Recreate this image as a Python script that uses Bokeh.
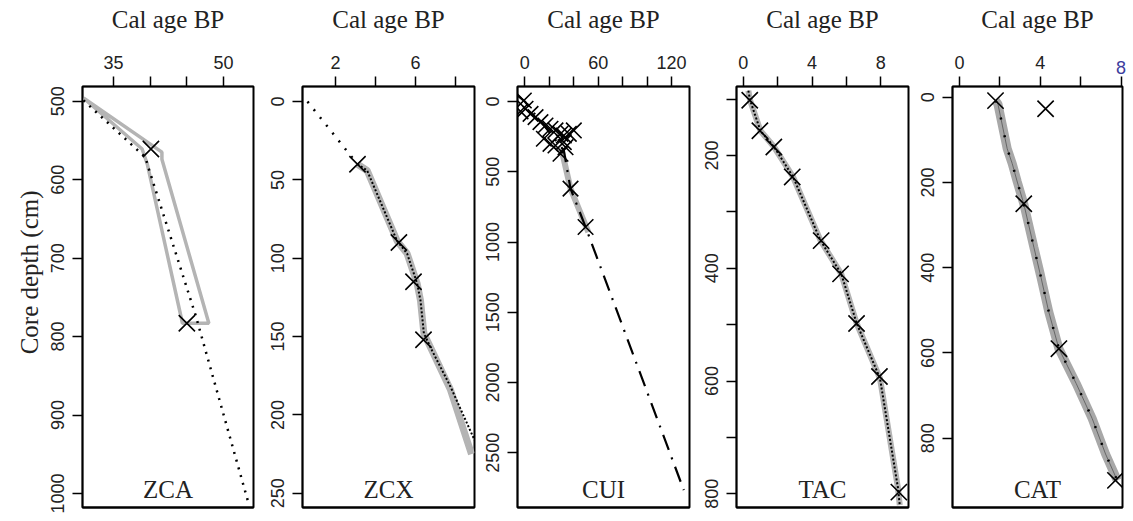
import math
from bokeh.plotting import figure
from bokeh.layouts import row
from bokeh.models import Range1d, FixedTicker, Label, LinearAxis, Title
from bokeh.embed import file_html
from bokeh.resources import INLINE

SERIF = "Liberation Serif"
SANS = "Liberation Sans"
GRAY = "#b4b4b4"
TXT = "#222222"

# ---------------- data ----------------
panel_names = ["ZCA", "ZCX", "CUI", "TAC", "CAT"]
x_title = "Cal age BP"
y_title = "Core depth (cm)"

# ZCA
zca_date_age = [40.1, 45.0]
zca_date_depth = [561, 783]
zca_model_age = [30.9, 39.4, 39.6, 46.2, 53.4]
zca_model_depth = [499, 572, 580, 773, 1012]
zca_env_age = [30.9, 41.6, 41.6, 48.0, 44.4, 39.6, 38.9, 30.9]
zca_env_depth = [496, 565, 574, 783, 783, 580, 561, 496]

# ZCX
zcx_date_age = [3.1, 5.17, 5.9, 6.4]
zcx_date_depth = [40, 90, 115, 152]
zcx_lead_age = [0.6, 3.1]
zcx_lead_depth = [0, 40]
zcx_model_age = [3.1, 3.58, 5.08, 5.58, 6.08, 6.25, 6.42, 6.83, 7.75, 8.95]
zcx_model_depth = [40, 44, 89, 97, 116, 127, 148, 159, 182, 216]
zcx_env_age = [3.1, 3.58, 5.08, 5.58, 6.08, 6.25, 6.42, 6.83, 7.75, 8.8]
zcx_env_depth = [40, 44, 89, 97, 116, 127, 148, 159, 184, 225]

# CUI
cui_date_age = [-0.8, -3.5, 0.6, 4.7, 8.8, 12.8, 16.9, 21.0, 25.1, 29.2, 31.9, 36.0,
                 40.1, 15.6, 21.0, 25.1, 31.9, 33.3, 29.2, 37.4, 49.7]
cui_date_depth = [-7, 70, 52, 88, 111, 147, 171, 194, 206, 230, 242, 230,
                  206, 265, 301, 313, 289, 325, 372, 620, 893]
cui_model_age = [-6.0, 0.0, 31.9, 37.4, 49.7, 130.0]
cui_model_depth = [-43, 0, 348, 620, 893, 2765]
cui_env_age = [30.0, 37.4, 52.0]
cui_env_depth = [340, 620, 930]

# TAC
tac_date_age = [0.38, 0.97, 1.78, 2.85, 4.53, 5.66, 6.59, 7.92, 9.05]
tac_date_depth = [102, 156, 185, 238, 351, 410, 498, 592, 797]
tac_model_age = [0.3, 0.4, 1.0, 1.8, 2.9, 4.5, 5.7, 6.6, 7.95, 9.0, 9.1]
tac_model_depth = [85, 102, 156, 185, 238, 351, 410, 498, 595, 790, 820]

# CAT
cat_date_age = [1.78, 4.26, 3.18, 4.92, 7.72]
cat_date_depth = [8, 27, 250, 590, 899]
cat_model_age = [1.78, 1.90, 2.36, 2.61, 2.86, 3.18, 3.68, 4.01, 4.42, 4.92, 5.78, 6.57, 7.23, 7.81]
cat_model_depth = [8, 16, 121, 156, 199, 250, 352, 418, 504, 590, 672, 754, 837, 899]

# axes
x_ranges = [(30.77, 54.09), (0.35, 8.95), (-5.97, 134.7), (-0.39, 9.61), (-0.35, 8.07)]
y_ranges = [(481.3, 1017.8), (-9.6, 259.1), (-106.7, 2889), (77.6, 824.3), (-25.1, 962.6)]
x_major = [[35, 50], [2, 6], [0, 60, 120], [0, 4, 8], [0, 4]]
x_minor = [[40, 45], [4, 8], [20, 40, 80, 100], [2, 6], [2, 6, 8]]
y_major = [[500, 600, 700, 800, 900, 1000], [0, 50, 100, 150, 200, 250],
           [0, 500, 1000, 1500, 2000, 2500], [200, 400, 600, 800], [0, 200, 400, 600, 800]]
y_minor = [[], [], [], [100, 300, 500, 700], []]
blue_ticks = [8]

# layout (pixels)
fig_widths = [255, 221, 215, 219, 216]
left_borders = [82, 47, 41, 45, 42]
right_borders = [2, 2, 2, 2, 4]
H = 516
TOP = 86
BOTTOM = 9
frame_h = H - TOP - BOTTOM

TICK = 10
LBL_FS = "18px"
LBL_H = 21


def style_axis(ax):
    ax.axis_line_color = "black"
    ax.axis_line_width = 1.5
    ax.major_tick_line_color = "black"
    ax.major_tick_line_width = 1.5
    ax.minor_tick_line_color = "black"
    ax.minor_tick_line_width = 1.5
    ax.major_tick_out = TICK
    ax.major_tick_in = 0
    ax.minor_tick_out = TICK
    ax.minor_tick_in = 0
    ax.major_label_text_font = SANS
    ax.major_label_text_font_size = LBL_FS
    ax.major_label_text_color = TXT
    ax.major_label_standoff = 8


def style_title(ax, standoff=20):
    ax.axis_label = x_title
    ax.axis_label_text_font = SERIF
    ax.axis_label_text_font_style = "normal"
    ax.axis_label_text_font_size = "25px"
    ax.axis_label_text_color = TXT
    ax.axis_label_standoff = standoff


def make_panel(i, with_title=True):
    xs, xe = x_ranges[i]
    yt, yb = y_ranges[i]
    p = figure(width=fig_widths[i], height=H, output_backend="svg", toolbar_location=None,
               x_axis_location="above", y_axis_location="left",
               x_range=Range1d(xs, xe), y_range=Range1d(start=yb, end=yt),
               min_border_left=left_borders[i], min_border_right=right_borders[i],
               min_border_top=TOP, min_border_bottom=BOTTOM)
    p.grid.visible = False
    p.background_fill_color = "white"
    p.border_fill_color = "white"
    p.outline_line_color = "black"
    p.outline_line_width = 2
    p.outline_line_alpha = 1

    xa = p.xaxis[0]
    xa.ticker = FixedTicker(ticks=x_major[i], minor_ticks=x_minor[i])
    style_axis(xa)
    if with_title:
        style_title(xa)
    ya = p.yaxis[0]
    ya.ticker = FixedTicker(ticks=y_major[i], minor_ticks=y_minor[i])
    ya.major_label_orientation = "vertical"
    style_axis(ya)

    # bottom edge of the box
    bax = LinearAxis(ticker=FixedTicker(ticks=[], minor_ticks=[]))
    bax.axis_line_color = "black"
    bax.axis_line_width = 2
    bax.major_tick_line_color = None
    bax.minor_tick_line_color = None
    bax.major_tick_out = 0
    bax.minor_tick_out = 0
    bax.major_label_standoff = 0
    bax.major_label_text_font_size = "1px"
    p.add_layout(bax, "below")

    def ydata(pix):
        return yt + (pix - TOP) / frame_h * (yb - yt)

    p.add_layout(Label(x=(xs + xe) / 2, y=ydata(TOP + frame_h - 5), text=panel_names[i],
                       text_font=SERIF, text_font_size="25px", text_align="center",
                       text_baseline="bottom", text_color=TXT))
    return p


figs = []

# ZCA
p = make_panel(0)
p.line(zca_env_age, zca_env_depth, line_color=GRAY, line_width=3.5)
p.line(zca_model_age, zca_model_depth, line_color="black", line_width=2.5, line_dash="2 6")
p.scatter(zca_date_age, zca_date_depth, marker="x", size=23, line_color="black", line_width=1.6)
p.add_layout(Title(text=y_title, align="right", offset=104, standoff=10, vertical_align="middle",
                   text_font=SERIF, text_font_size="25px", text_font_style="normal",
                   text_color=TXT), "left")
figs.append(p)

# ZCX
p = make_panel(1)
p.line(zcx_env_age, zcx_env_depth, line_color=GRAY, line_width=7)
p.line(zcx_model_age, zcx_model_depth, line_color="black", line_width=2, line_dash="2 2")
p.line(zcx_lead_age, zcx_lead_depth, line_color="black", line_width=2.5, line_dash="2 8")
p.scatter(zcx_date_age, zcx_date_depth, marker="x", size=23, line_color="black", line_width=1.6)
figs.append(p)

# CUI
p = make_panel(2)
p.line(cui_env_age, cui_env_depth, line_color=GRAY, line_width=6)
p.line(cui_model_age, cui_model_depth, line_color="black", line_width=2.2, line_dash="16 8 2 8")
p.scatter(cui_date_age, cui_date_depth, marker="x", size=22, line_color="black", line_width=1.6)
figs.append(p)

# TAC
p = make_panel(3)
p.line(tac_model_age, tac_model_depth, line_color=GRAY, line_width=6)
p.line(tac_model_age, tac_model_depth, line_color="black", line_width=2, line_dash="2 2")
p.scatter(tac_date_age, tac_date_depth, marker="x", size=23, line_color="black", line_width=1.6)
figs.append(p)

# CAT
p = make_panel(4, with_title=False)
p.line(cat_model_age, cat_model_depth, line_color="#a8a8a8", line_width=9)
p.line(cat_model_age, cat_model_depth, line_color="#666666", line_width=1)
p.line(cat_model_age, cat_model_depth, line_color="black", line_width=2.5, line_dash="2 16")
p.scatter(cat_date_age, cat_date_depth, marker="x", size=23, line_color="black", line_width=1.6)
blue_axis = LinearAxis(ticker=FixedTicker(ticks=blue_ticks, minor_ticks=[]))
style_axis(blue_axis)
blue_axis.axis_line_color = None
blue_axis.major_tick_line_color = None
blue_axis.major_tick_out = 0
blue_axis.major_label_text_color = "#3c3c9e"
blue_axis.major_label_standoff = -LBL_H
style_title(blue_axis, standoff=25)
p.add_layout(blue_axis, "above")
figs.append(p)

layout = row(*figs, spacing=0)
open("out.html", "w").write(file_html(layout, INLINE))
